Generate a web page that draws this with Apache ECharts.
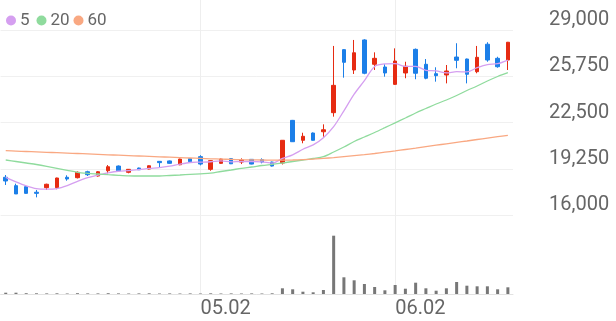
<!DOCTYPE html>
<html>
<head>
<meta charset="utf-8">
<script src="https://cdn.jsdelivr.net/npm/echarts@6/dist/echarts.min.js"></script>
<style>
html,body{margin:0;padding:0;background:#fff;}
#chart{width:616px;height:321px;}
</style>
</head>
<body>
<div id="chart"></div>
<script>
const dates = ['04.04','04.07','04.08','04.09','04.10','04.11','04.14','04.15','04.16','04.17',
  '04.18','04.21','04.22','04.23','04.24','04.25','04.28','04.29','04.30','05.02',
  '05.07','05.08','05.09','05.12','05.13','05.14','05.15','05.16','05.19','05.20',
  '05.21','05.22','05.23','05.26','05.27','05.28','05.29','05.30','06.02','06.04',
  '06.05','06.09','06.10','06.11','06.12','06.13','06.16','06.17','06.18','06.19'];
const xLabels = ['05.02','06.02'];

const open  = [18650,18060,17990,17600,17920,17920,18650,18620,19040,18740,
  19110,19440,19000,19300,19230,19770,19800,19530,19960,20100,
  19210,19630,19960,19720,19910,19890,19720,19650,22650,21250,
  21760,21850,23190,27620,26190,28300,26590,26400,25180,25980,
  27640,26590,25930,25840,27100,26960,26070,28000,27010,26890];
const close = [18390,17480,17520,17520,18160,18600,18530,19000,18830,19040,
  19390,19110,19210,19180,19460,19680,19630,19930,19750,19580,
  19820,19930,19600,19870,19580,19720,19440,21250,21150,21530,
  21250,21990,25110,26730,27400,25960,27010,25980,26820,26450,
  25960,25610,25790,26120,26870,25890,27080,26890,26420,28140];
const low   = [18110,17480,17500,17240,17760,17810,18410,18570,18740,18700,
  18930,19080,18930,19160,19210,19350,19600,19500,19720,19490,
  19110,19600,19580,19580,19560,19630,19410,19550,21130,21040,
  21230,21500,22910,25650,25910,25890,26190,25720,25140,25610,
  25540,25540,25370,25250,26310,25250,25960,26770,26350,26190];
const high  = [18810,18200,18060,17760,18200,18620,18790,19060,19110,19080,
  19510,19480,19230,19330,19480,19780,19830,19960,19990,20200,
  19850,19960,19990,19980,19930,19980,19750,21270,22680,21780,
  21800,22370,27880,27650,28300,28350,27430,26590,27710,26770,
  27700,26960,26380,26540,28070,26990,27880,28140,27120,28160];
const volume = [39000,39000,24000,21000,18000,21000,15000,24000,18000,18000,
  24000,18000,15000,18000,21000,15000,18000,15000,18000,15000,
  21000,15000,18000,15000,18000,15000,21000,171000,141000,69000,
  51000,120000,1749000,501000,411000,300000,210000,111000,270000,159000,
  339000,171000,99000,171000,360000,249000,231000,231000,141000,201000];
const ma5 = [18650,18330,18050,17850,17814,17856,18066,18362,18624,18800,
  18958,19074,19116,19186,19270,19328,19432,19576,19690,19714,
  19742,19802,19736,19760,19760,19740,19642,19972,20228,20618,
  20924,21434,22206,23322,24496,25438,26442,26616,26634,26444,
  26444,26164,26126,25986,26070,26056,26350,26570,26630,26884];
const ma20 = [19865,19760,19654,19549,19422,19282,19141,19001,18930,18881,
  18832,18790,18755,18741,18741,18741,18776,18811,18853,18895,
  18937,19057,19162,19282,19373,19478,19563,19654,19760,19865,
  19970,20097,20427,20778,21165,21481,21797,22135,22479,22816,
  23168,23484,23800,24081,24397,24749,25065,25416,25732,25999];
const ma60 = [20518,20490,20462,20434,20406,20378,20350,20322,20294,20265,
  20230,20202,20174,20146,20118,20090,20062,20033,20005,19977,
  19949,19928,19907,19886,19872,19865,19858,19858,19865,19886,
  19921,19977,20033,20104,20174,20244,20322,20413,20504,20603,
  20701,20807,20905,21003,21102,21200,21305,21404,21502,21601];
const yMin = 16000, yMax = 29000, yStep = 3250;

const candles = open.map((o, i) => [o, close[i], low[i], high[i]]);
const RED = '#e62b12', BLUE = '#1c7fe8';
const C5 = '#d59ff0', C20 = '#8fdb9d', C60 = '#f9a882';
const TXT = '#666666';
const FONT = 'Roboto';

const chart = echarts.init(document.getElementById('chart'));
const legendCommon = {
  top: 7, icon: 'circle', itemWidth: 10, itemHeight: 10, itemGap: 4,
  textStyle: {fontSize: 17, color: TXT, fontFamily: FONT, padding: [0,0,0,-1]},
  selectedMode: false
};
chart.setOption({
  animation: false,
  backgroundColor: '#ffffff',
  textStyle: {fontFamily: FONT},
  legend: [
    Object.assign({left: 1, data: ['5']}, legendCommon),
    Object.assign({left: 31.5, data: ['20']}, legendCommon),
    Object.assign({left: 68.5, data: ['60']}, legendCommon)
  ],
  grid: [
    {left: 0.6, right: 103, top: 30, height: 185},
    {left: 0.6, right: 103, top: 230, height: 64},
    {left: 5.7, right: 108, top: 0, height: 294}
  ],
  xAxis: [
    {type: 'category', gridIndex: 0, data: dates, boundaryGap: true,
     axisLine: {show: false}, axisTick: {show: false}, axisLabel: {show: false}, splitLine: {show: false}},
    {type: 'category', gridIndex: 1, data: dates, boundaryGap: true,
     axisLine: {show: true, lineStyle: {color: '#e2e2e2', width: 1}}, axisTick: {show: false},
     axisLabel: {show: false}, splitLine: {show: false}},
    {type: 'category', gridIndex: 2, data: dates, boundaryGap: false,
     axisLine: {show: false}, axisTick: {show: false},
     axisLabel: {show: true, interval: (i, v) => xLabels.indexOf(v) >= 0, align: 'left',
       fontSize: 20, color: TXT, fontFamily: FONT, margin: 5},
     splitLine: {show: true, interval: (i, v) => xLabels.indexOf(v) >= 0,
       lineStyle: {color: '#eeeeee', width: 1}}}
  ],
  yAxis: [
    {type: 'value', gridIndex: 0, position: 'right', min: yMin, max: yMax, interval: yStep,
     axisLine: {show: false}, axisTick: {show: false},
     axisLabel: {fontSize: 20, color: TXT, fontFamily: FONT, margin: 36, verticalAlign: 'bottom'},
     splitLine: {show: true, lineStyle: {color: '#f0f0f0', width: 1}}},
    {type: 'value', gridIndex: 1, min: 0, max: 1920000, show: false, splitLine: {show: false}},
    {type: 'value', gridIndex: 2, show: false, splitLine: {show: false}}
  ],
  series: [
    {type: 'candlestick', name: 'K', xAxisIndex: 0, yAxisIndex: 0, data: candles, barWidth: 4,
     itemStyle: {color: RED, color0: BLUE, borderColor: RED, borderColor0: BLUE, borderWidth: 1}, z: 3},
    {type: 'line', name: '5', xAxisIndex: 0, yAxisIndex: 0, data: ma5, color: C5, smooth: 0.3,
     symbol: 'none', lineStyle: {width: 1.3, color: C5}, z: 4},
    {type: 'line', name: '20', xAxisIndex: 0, yAxisIndex: 0, data: ma20, color: C20, smooth: 0.3,
     symbol: 'none', lineStyle: {width: 1.3, color: C20}, z: 4},
    {type: 'line', name: '60', xAxisIndex: 0, yAxisIndex: 0, data: ma60, color: C60, smooth: 0.3,
     symbol: 'none', lineStyle: {width: 1.3, color: C60}, z: 4},
    {type: 'bar', name: 'vol', xAxisIndex: 1, yAxisIndex: 1, data: volume, barWidth: 3,
     itemStyle: {color: '#777777'}}
  ]
});
</script>
</body>
</html>
